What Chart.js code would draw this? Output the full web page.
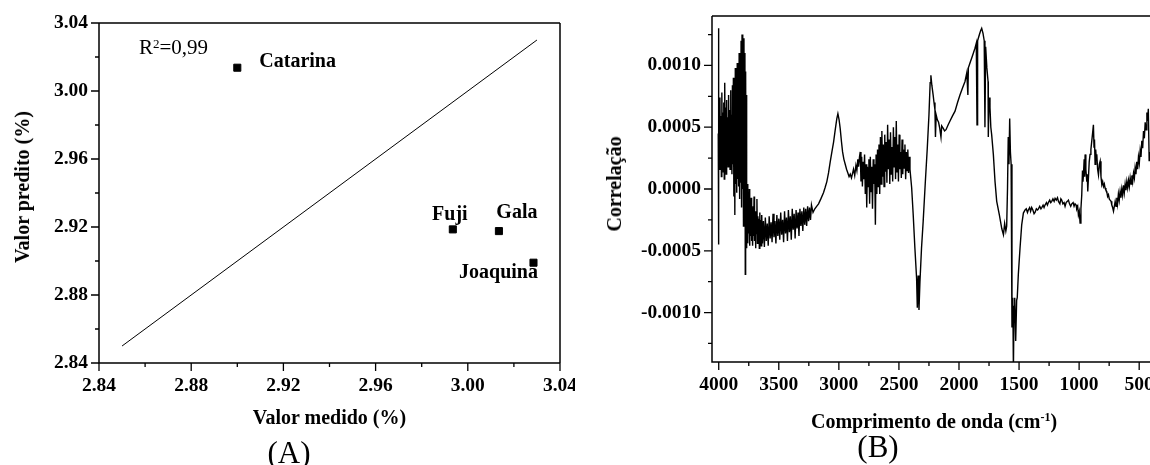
<!DOCTYPE html>
<html lang="pt-BR">
<head>
<meta charset="utf-8">
<title>Valor predito x medido e correlação</title>
<script src="https://cdn.jsdelivr.net/npm/chart.js@4/dist/chart.umd.min.js"></script>
<style>
  html, body { margin: 0; padding: 0; background: #fff; }
  #painel { position: relative; width: 1150px; height: 465px; overflow: hidden; font-family: "Liberation Serif", "Times New Roman", serif; color: #000; }
  canvas { position: absolute; top: 0; }
  #graficoA { left: 0; }
  #graficoB { left: 575px; }
  .titulo { position: absolute; white-space: nowrap; line-height: 1; font-weight: bold; font-size: 20px; transform: translate(-50%, -50%); }
  .vertical { transform: translate(-50%, -50%) rotate(-90deg); }
  .painel { position: absolute; line-height: 1; font-size: 31px; transform: translate(-50%, -50%); }
  sup { font-size: 0.6em; vertical-align: 0.55em; line-height: 0; }
</style>
</head>
<body>
<div id="painel">
  <canvas id="graficoA" width="575" height="465"></canvas>
  <canvas id="graficoB" width="575" height="465"></canvas>
  <div class="titulo vertical" style="left: 21.5px; top: 187px;">Valor predito (%)</div>
  <div class="titulo" style="left: 329.5px; top: 417px;">Valor medido (%)</div>
  <div class="titulo vertical" style="left: 614px; top: 184px;">Correlação</div>
  <div class="titulo" style="left: 934px; top: 421px;">Comprimento de onda (cm<sup>-1</sup>)</div>
  <div class="painel" style="left: 289px; top: 452px;">(A)</div>
  <div class="painel" style="left: 878px; top: 446px;">(B)</div>
</div>
<script>
// (A) valor medido x valor predito por cultivar
const cultivares = ['Catarina', 'Fuji', 'Gala', 'Joaquina'];
const valorMedido = [2.900, 2.9935, 3.0135, 3.0285];
const valorPredito = [3.0137, 2.9186, 2.9176, 2.899];
const retaMedido = [2.85, 3.03];
const retaPredito = [2.85, 3.03];
const ticksMedido = [2.84, 2.88, 2.92, 2.96, 3.00, 3.04];
const ticksPredito = [2.84, 2.88, 2.92, 2.96, 3.00, 3.04];

// (B) correlação x número de onda (valores de correlação em 10^-4)
const numeroOnda = [
  4004, 4003, 4001, 3998, 3994, 3990, 3986, 3982, 3978, 3974, 3970, 3966, 3962, 3958, 3954, 3950, 3946, 3942, 3938, 3934, 3930, 3926, 3922, 3918, 3914, 3910, 3906, 3902, 3898, 3894, 3890, 3886, 3882,
  3878, 3874, 3870, 3866, 3862, 3858, 3854, 3850, 3846, 3842, 3838, 3834, 3830, 3826, 3822, 3818, 3814, 3810, 3806, 3802, 3798, 3794, 3790, 3786, 3782, 3779, 3776, 3772, 3769, 3766,
  3762, 3758, 3754, 3750, 3746, 3742, 3738, 3734, 3730, 3726, 3722, 3718, 3714, 3710, 3706, 3702, 3698, 3694, 3690, 3686, 3682, 3678, 3674, 3670, 3666, 3662, 3658, 3654, 3650, 3646, 3642,
  3636, 3628, 3620, 3612, 3604, 3596, 3588, 3580, 3572, 3564, 3556, 3548, 3540, 3532, 3524, 3516, 3508, 3500, 3492, 3484, 3476, 3468, 3460, 3452, 3444, 3436, 3428, 3420, 3412, 3404, 3396, 3388, 3380, 3372, 3364, 3356, 3348, 3340, 3332, 3324, 3316, 3308, 3300, 3292, 3284, 3276, 3268, 3260, 3252, 3244, 3236, 3228,
  3215, 3200, 3185, 3169, 3150, 3128, 3115, 3100, 3086, 3072, 3058, 3044, 3030, 3017, 3008, 2998, 2989, 2978, 2969, 2958, 2947, 2936, 2925, 2915, 2905, 2895, 2885, 2878, 2868, 2858, 2850, 2842, 2836, 2828,
  2822, 2816, 2810, 2804, 2798, 2792, 2786, 2780, 2774, 2768, 2762, 2756, 2750, 2744, 2738, 2732, 2726, 2720, 2714, 2708, 2702, 2696, 2690, 2684, 2678, 2672, 2666, 2660,
  2654, 2648, 2642, 2636, 2630, 2624, 2618, 2612, 2606, 2600, 2594, 2588, 2582, 2576, 2570, 2564, 2558, 2552, 2546, 2540, 2534, 2528, 2522, 2516, 2510, 2504, 2498, 2492, 2486, 2480, 2474, 2468, 2462, 2456, 2450, 2444, 2438, 2432, 2426, 2420, 2414, 2408,
  2394, 2381, 2367, 2353, 2347, 2340, 2333, 2325, 2312, 2298, 2280, 2264, 2250, 2240, 2234, 2226, 2215, 2208, 2200, 2196, 2190, 2180, 2170, 2160, 2150, 2144, 2131, 2120, 2108,
  2090, 2075, 2055, 2033, 2012, 1992, 1970, 1950, 1935, 1926, 1922, 1905, 1894, 1880, 1867, 1856, 1850, 1845, 1830, 1820, 1811, 1800, 1790, 1784, 1778, 1768, 1758, 1756, 1750, 1742,
  1735, 1728, 1714, 1700, 1686, 1664, 1644, 1630, 1620, 1610, 1603, 1596, 1590, 1584, 1578, 1572, 1566, 1559, 1552, 1547, 1542, 1536, 1528, 1520, 1515, 1506, 1492, 1478, 1464, 1450,
  1440, 1430, 1423, 1412, 1404, 1395, 1385, 1375, 1367, 1356, 1346, 1339, 1328, 1318, 1311, 1300, 1292, 1284, 1272, 1264, 1256, 1245, 1236, 1228, 1218, 1208, 1200, 1190, 1180, 1172,
  1160, 1152, 1145, 1135, 1125, 1117, 1108, 1098, 1089, 1080, 1070, 1061, 1050, 1042, 1034, 1025, 1020, 1012, 1006, 999, 992,
  985, 978, 972, 968, 964, 958, 954, 950, 944, 936, 932, 928, 922, 916, 909, 902, 895, 888, 881, 876, 872, 867, 862, 857, 853, 846, 839, 832, 825, 818,
  811, 804, 797, 790, 784, 777, 770, 763, 756, 749, 742, 734, 728, 721, 714, 707,
  700, 693, 686, 680, 673, 666, 659, 652, 645, 638, 631, 624, 617, 610, 603, 596, 589, 582, 575, 568,
  561, 554, 547, 540, 534, 527, 520, 513, 506, 499, 492, 485, 478, 471, 464, 457, 450, 443, 436, 430, 424, 417, 412
];
const correlacao = [
  4.5, 13.0, -4.5, 6.8, 1.6, 7.4, 2.2, 5.9, 1.0, 7.8, 2.6, 6.2, 1.4, 7.0, 0.8, 8.6, 2.0, 6.6, 1.2, 7.2, 2.8, 5.8, 1.8, 7.6, 2.4, 6.4, 1.6, 8.0, 2.6, 6.0, 1.2, 8.4, 2.0,
  9.0, -0.6, 8.2, -2.1, 9.8, 0.4, 8.8, -0.3, 10.2, 0.8, 9.4, 0.2, 11.0, -0.8, 10.4, 0.5, 12.0, -1.5, 12.5, 0.0, 11.6, -3.0, 12.2, -1.0, 11.0, -6.9, 9.5, -4.0, 7.6, -4.8,
  0.4, -4.4, -0.5, -3.6, 0.0, -4.6, -1.2, -3.8, -0.7, -4.2, -1.6, -4.6, -1.4, -3.8, -0.6, -4.2, -2.0, -4.8, -1.8, -3.6, -0.8, -4.4, -2.2, -4.0, -2.4, -4.8, -1.9, -3.8, -2.5, -4.6, -2.1,
  -4.4, -2.6, -4.7, -2.3, -4.2, -2.8, -4.6, -2.2, -4.0, -2.7, -4.3, -2.0, -3.9, -2.6, -4.4, -2.1, -3.8, -2.4, -4.1, -1.9, -3.7, -2.5, -4.3, -1.8, -3.6, -2.3, -4.2, -1.7, -3.5, -2.2, -4.1, -1.6, -3.3, -2.0, -4.0, -1.7, -3.2, -1.9, -3.8, -1.6, -3.0, -1.8, -3.4, -1.5, -2.9, -1.6, -3.0, -1.4, -2.6, -1.5, -2.5, -1.3,
  -1.9, -1.6, -1.4, -1.2, -0.8, -0.3, 0.1, 0.6, 1.3, 2.2, 3.0, 3.8, 4.8, 5.7, 6.1, 5.6, 4.9, 3.8, 3.0, 2.4, 2.0, 1.6, 1.3, 1.0, 1.2, 0.9, 1.3, 1.6, 1.1, 1.9, 1.5, 2.4, 1.8, 2.6,
  3.0, 0.6, 2.6, 0.2, 2.2, 0.8, 2.8, -0.4, 2.0, -1.5, 1.8, 0.2, 2.4, -1.2, 2.6, -0.2, 1.8, -1.6, 2.4, 0.4, 2.0, -2.9, 2.8, -0.4, 3.2, 0.2, 3.6, -0.4,
  4.2, 0.4, 4.7, 1.0, 3.6, 0.2, 4.4, 1.4, 3.8, 0.5, 5.2, 1.6, 4.0, 0.4, 4.6, 1.2, 3.4, 0.6, 5.0, 1.8, 4.2, 0.8, 5.5, 1.4, 3.6, 0.6, 4.4, 1.6, 3.0, 0.9, 4.0, 1.2, 3.2, 1.7, 3.6, 0.8, 3.0, 1.5, 3.2, 1.3, 2.6, 1.6,
  0.1, -2.1, -4.8, -7.2, -9.6, -7.0, -9.8, -7.5, -4.8, -2.6, 0.6, 3.3, 6.0, 8.6, 9.2, 8.4, 7.6, 7.0, 6.4, 4.2, 6.0, 5.6, 5.4, 4.9, 4.2, 5.1, 4.9, 4.7, 4.8,
  5.2, 5.5, 5.9, 6.3, 7.0, 7.6, 8.2, 8.7, 9.4, 7.6, 9.8, 10.3, 10.6, 11.0, 11.4, 11.8, 5.2, 12.0, 12.5, 12.8, 13.0, 12.6, 12.0, 5.0, 11.5, 9.8, 8.7, 4.2, 7.4, 6.6,
  5.0, 4.4, 2.8, 0.6, -1.0, -2.1, -3.2, -3.7, -2.8, -3.4, -3.0, 0.1, 4.2, 2.0, 5.7, 3.0, 2.0, -11.2, -8.8, -14.6, -9.5, -8.8, -12.3, -9.0, -8.8, -6.9, -4.8, -2.9, -1.95, -1.7,
  -1.6, -1.9, -1.7, -1.5, -1.8, -1.5, -1.7, -2.0, -1.9, -1.6, -1.7, -1.6, -1.4, -1.6, -1.5, -1.3, -1.5, -1.3, -1.1, -1.3, -1.1, -0.9, -1.1, -1.0, -0.8, -1.0, -0.76, -0.9, -0.7, -1.0,
  -1.2, -0.8, -0.9, -1.2, -1.1, -1.4, -1.1, -1.0, -0.9, -1.2, -1.4, -1.2, -1.1, -1.4, -1.2, -1.3, -1.6, -1.4, -2.1, -1.8, -2.75,
  -1.6, -0.46, 1.5, 0.6, 1.15, 2.4, 1.0, 2.8, 1.6, 0.6, 1.2, -0.2, 1.0, 2.2, 2.8, 3.2, 3.85, 4.5, 5.2, 3.4, 4.0, 2.0, 3.2, 2.4, 2.8, 1.6, 1.15, 2.0, 2.25, 1.0,
  0.35, 0.6, 0.2, 0.4, 0.08, -0.1, -0.2, -0.6, -0.46, -0.8, -0.9, -1.0, -1.3, -1.5, -1.8, -1.4,
  -1.0, -1.4, -0.7, -1.2, -0.4, -0.9, -0.2, -0.7, 0.0, -0.5, 0.3, -0.3, 0.4, -0.1, 0.6, 0.1, 0.7, 0.2, 0.9, 0.4,
  1.1, 0.6, 1.3, 0.9, 1.7, 1.2, 2.2, 1.6, 2.6, 2.1, 3.1, 2.6, 3.9, 3.3, 4.7, 4.1, 5.4, 4.8, 6.2, 5.5, 6.5, 2.3, 3.0
];
const ticksOnda = [500, 1000, 1500, 2000, 2500, 3000, 3500, 4000];
const ticksCorrelacao = [-0.0010, -0.0005, 0, 0.0005, 0.0010];

const fonteTicks = { family: 'Liberation Serif', size: 19.5, weight: 'bold' };

// posição de cada rótulo em relação ao seu ponto
const posRotulo = {
  Catarina: { dx: 22, dy: -1, align: 'left' },
  Fuji: { dx: -3, dy: -9, align: 'center' },
  Gala: { dx: 18, dy: -13, align: 'center' },
  Joaquina: { dx: 4.5, dy: 15.5, align: 'right' }
};

// moldura estilo Origin: eixos, borda superior e marcas maiores/menores para fora
const molduraEixos = {
  id: 'molduraEixos',
  afterDatasetsDraw(chart, args, opts) {
    const { ctx, chartArea: a, scales: { x, y } } = chart;
    ctx.save();
    ctx.strokeStyle = '#000';
    ctx.lineWidth = 1.5;
    ctx.beginPath();
    ctx.moveTo(a.left, a.top);
    ctx.lineTo(a.left, a.bottom);
    ctx.lineTo(a.right, a.bottom);
    ctx.moveTo(a.left, a.top);
    ctx.lineTo(a.right, a.top);
    if (opts.bordaDireita) {
      ctx.moveTo(a.right, a.top);
      ctx.lineTo(a.right, a.bottom);
    }
    ctx.stroke();

    ctx.lineWidth = 1.3;
    ctx.beginPath();
    marcas(x, opts.passoX).forEach(([v, maior]) => {
      const px = x.getPixelForValue(v);
      ctx.moveTo(px, a.bottom);
      ctx.lineTo(px, a.bottom + (maior ? 8 : 4));
    });
    marcas(y, opts.passoY).forEach(([v, maior]) => {
      const py = y.getPixelForValue(v);
      ctx.moveTo(a.left, py);
      ctx.lineTo(a.left - (maior ? 8 : 4), py);
    });
    ctx.stroke();
    ctx.restore();
  }
};

// marcas a cada meio passo: pares são maiores, ímpares menores
function marcas(escala, passo) {
  const meio = passo / 2;
  const ini = Math.ceil(escala.min / meio - 1e-6);
  const fim = Math.floor(escala.max / meio + 1e-6);
  const lista = [];
  for (let k = ini; k <= fim; k++) {
    lista.push([k * meio, k % 2 === 0]);
  }
  return lista;
}

// nomes das cultivares e o R² sobre o gráfico (A)
const rotulosPontos = {
  id: 'rotulosPontos',
  afterDatasetsDraw(chart) {
    const { ctx, scales: { x, y } } = chart;
    const meta = chart.getDatasetMeta(1);
    ctx.save();
    ctx.fillStyle = '#000';
    ctx.textBaseline = 'alphabetic';
    ctx.font = 'bold 20px "Liberation Serif"';
    meta.data.forEach((pt, i) => {
      const nome = cultivares[i];
      const p = posRotulo[nome];
      ctx.textAlign = p.align;
      ctx.fillText(nome, pt.x + p.dx, pt.y + p.dy);
    });

    let px = x.getPixelForValue(2.8573);
    const py = y.getPixelForValue(3.0218);
    ctx.textAlign = 'left';
    ctx.font = '21px "Liberation Serif"';
    ctx.fillText('R', px, py);
    px += ctx.measureText('R').width;
    ctx.font = '13px "Liberation Serif"';
    ctx.fillText('2', px, py - 6);
    px += ctx.measureText('2').width;
    ctx.font = '21px "Liberation Serif"';
    ctx.fillText('=0,99', px, py);
    ctx.restore();
  }
};

function eixoX(min, max, lista, formato, altura, extra) {
  return Object.assign({
    type: 'linear', position: 'bottom', min, max,
    grid: { display: false, drawTicks: false },
    border: { display: false },
    afterBuildTicks: s => { s.ticks = lista.map(v => ({ value: v })); },
    afterFit: s => { s.height = altura; s.paddingLeft = 0; s.paddingRight = 0; },
    ticks: { autoSkip: false, maxRotation: 0, padding: 11, color: '#000', font: fonteTicks, callback: formato }
  }, extra || {});
}

function eixoY(min, max, lista, formato, largura) {
  return {
    type: 'linear', position: 'left', min, max,
    grid: { display: false, drawTicks: false },
    border: { display: false },
    afterBuildTicks: s => { s.ticks = lista.map(v => ({ value: v })); },
    afterFit: s => { s.width = largura; s.paddingTop = 0; s.paddingBottom = 0; },
    ticks: { autoSkip: false, padding: 11, color: '#000', font: fonteTicks, callback: formato }
  };
}

const opcoesBase = {
  responsive: false,
  animation: false,
  events: [],
  plugins: { legend: { display: false }, tooltip: { enabled: false } }
};

new Chart(document.getElementById('graficoA'), {
  type: 'scatter',
  data: {
    datasets: [
      {
        type: 'line',
        data: retaMedido.map((v, i) => ({ x: v, y: retaPredito[i] })),
        borderColor: '#000',
        borderWidth: 1,
        pointRadius: 0,
        fill: false
      },
      {
        data: valorMedido.map((v, i) => ({ x: v, y: valorPredito[i] })),
        pointStyle: 'rect',
        pointRadius: 5,
        backgroundColor: '#000',
        borderColor: '#000',
        borderWidth: 1
      }
    ]
  },
  options: Object.assign({}, opcoesBase, {
    layout: { padding: { left: 0, top: 23, right: 15, bottom: 0 } },
    plugins: Object.assign({}, opcoesBase.plugins, {
      molduraEixos: { bordaDireita: true, passoX: 0.04, passoY: 0.04 }
    }),
    scales: {
      x: eixoX(2.84, 3.04, ticksMedido, v => v.toFixed(2), 102),
      y: eixoY(2.84, 3.04, ticksPredito, v => v.toFixed(2), 99)
    }
  }),
  plugins: [molduraEixos, rotulosPontos]
});

new Chart(document.getElementById('graficoB'), {
  type: 'line',
  data: {
    datasets: [{
      data: numeroOnda.map((v, i) => ({ x: v, y: correlacao[i] * 1e-4 })),
      borderColor: '#000',
      borderWidth: 1.4,
      pointRadius: 0,
      tension: 0,
      fill: false
    }]
  },
  options: Object.assign({}, opcoesBase, {
    layout: { padding: { left: 0, top: 16, right: 0, bottom: 0 } },
    plugins: Object.assign({}, opcoesBase.plugins, {
      molduraEixos: { bordaDireita: false, passoX: 500, passoY: 0.0005 }
    }),
    scales: {
      x: eixoX(410, 4056, ticksOnda, v => String(v), 103, { reverse: true }),
      y: eixoY(-0.0014, 0.0014, ticksCorrelacao, v => (Math.abs(v) < 1e-9 ? 0 : v).toFixed(4), 137)
    }
  }),
  plugins: [molduraEixos]
});
</script>
</body>
</html>
